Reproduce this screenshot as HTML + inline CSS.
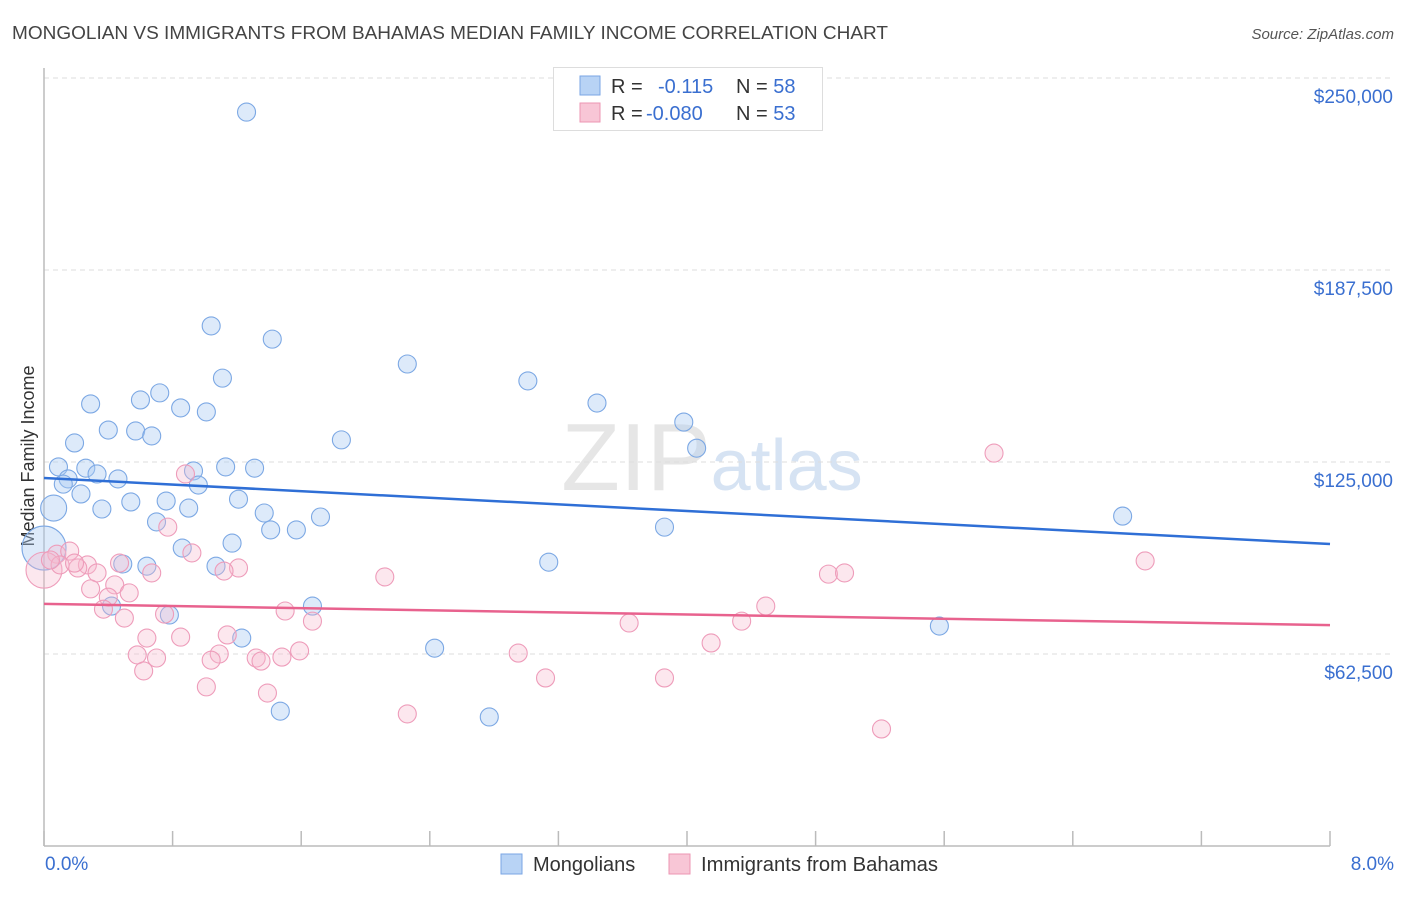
<!DOCTYPE html>
<html><head><meta charset="utf-8"><style>
body{margin:0;background:#fff;font-family:"Liberation Sans",sans-serif;}
svg text{font-family:"Liberation Sans",sans-serif;}
</style></head><body>
<svg id="chart" width="1406" height="892" xmlns="http://www.w3.org/2000/svg">
<text x="12" y="39" font-size="18.5" fill="#444" textLength="876" lengthAdjust="spacingAndGlyphs">MONGOLIAN VS IMMIGRANTS FROM BAHAMAS MEDIAN FAMILY INCOME CORRELATION CHART</text>
<text x="1394" y="39" font-size="15" font-style="italic" fill="#555" text-anchor="end">Source: ZipAtlas.com</text>
<text x="712" y="490" font-size="96" text-anchor="middle" fill="#dcdcdc" font-family="Liberation Serif" opacity="0.7">ZIP<tspan fill="#c6d8ee" font-family="Liberation Sans" font-size="72">atlas</tspan></text>
<text transform="translate(34,456) rotate(-90)" font-size="18" fill="#333" text-anchor="middle">Median Family Income</text>
<g id="grid"></g><g id="axes"></g><g id="pts"></g><g id="trend"></g>
<g>
<rect x="553.5" y="67.5" width="269" height="63" fill="#fff" stroke="#ddd"/>
<rect x="580" y="76" width="20" height="19" fill="#b8d3f5" stroke="#7aa6e4"/>
<rect x="580" y="103" width="20" height="19" fill="#f8c6d6" stroke="#ec96b3"/>
<text x="611" y="93" font-size="20" fill="#333">R = <tspan fill="#3a6fd0" x="658">-0.115</tspan><tspan fill="#333" x="736">N = </tspan><tspan fill="#3a6fd0">58</tspan></text>
<text x="611" y="120" font-size="20" fill="#333">R = <tspan fill="#3a6fd0" x="646">-0.080</tspan><tspan fill="#333" x="736">N = </tspan><tspan fill="#3a6fd0">53</tspan></text>
</g>
<g>
<rect x="501" y="854" width="21" height="20" fill="#b8d3f5" stroke="#7aa6e4"/>
<text x="533" y="871" font-size="20" fill="#333">Mongolians</text>
<rect x="669" y="854" width="21" height="20" fill="#f8c6d6" stroke="#ec96b3"/>
<text x="701" y="871" font-size="20" fill="#333" textLength="237" lengthAdjust="spacingAndGlyphs">Immigrants from Bahamas</text>
</g>
</svg>
<script>
const yTicks=[62500,125000,187500,250000];
const yTickLabels=["$62,500","$125,000","$187,500","$250,000"];
const xTickLabels=["0.0%","8.0%"];
const blueX=[1.26,1.04,1.42,2.26,1.11,3.01,0.72,0.60,0.29,3.44,0.85,1.01,3.98,0.40,0.57,0.67,1.85,0.19,4.06,0.09,0.26,0.93,1.13,1.31,0.33,0.46,0.15,0.12,0.96,0.23,1.21,0.54,0.76,0.06,0.36,0.90,1.37,1.72,6.71,0.70,3.86,1.41,1.57,1.17,0.86,0.0,0.49,0.64,3.14,1.07,0.42,0.78,1.67,5.57,1.23,2.43,1.47,2.77];
const blueY=[238900,169300,165000,156900,152300,151400,147500,145200,143900,144200,142600,141300,138000,135400,135100,133500,132200,131200,129500,123400,123000,122100,123400,123000,121100,119500,119500,117800,117500,114600,112900,112000,112300,110000,109700,110000,108400,107100,107400,105500,103800,102900,102900,98600,97000,97000,91800,91100,92400,91100,78100,75200,78100,71600,67700,64400,43900,42000];
const blueR=[9,9,9,9,9,9,9,9,9,9,9,9,9,9,9,9,9,9,9,9,9,9,9,9,9,9,9,9,9,9,9,9,9,13,9,9,9,9,9,9,9,9,9,9,9,22,9,9,9,9,9,9,9,9,9,9,9,9];
const pinkX=[5.91,0.88,0.77,0.08,0.16,0.0,0.92,0.47,0.27,0.21,0.10,0.33,0.67,1.21,1.12,2.12,4.88,4.98,6.85,0.44,0.29,0.53,0.40,0.37,1.50,4.49,0.75,0.50,1.67,3.64,4.34,0.64,0.85,1.14,4.15,0.58,1.59,1.09,1.04,0.70,1.32,1.35,1.48,2.95,0.62,3.12,3.86,1.01,1.39,2.26,5.21,0.04,0.19];
const pinkY=[127900,121100,103800,95000,96000,89800,95400,92100,91500,90500,91500,88900,88900,90500,89500,87600,88500,88900,92800,85000,83700,82400,81000,77100,76500,78100,75500,74200,73200,72600,73200,67700,68000,68700,66100,62200,63500,62500,60500,61200,61200,60200,61500,62800,57000,54700,54700,51800,49800,43000,38100,93100,92100];
const trendBlueY=[119800,98300];
const trendPinkY=[78800,71900];
const trendX=[0,8];
const X=v=>44+v/8*1286, Y=v=>846-v/62500*192;
const NS="http://www.w3.org/2000/svg";
function mk(p,t,a){const e=document.createElementNS(NS,t);for(const k in a)e.setAttribute(k,a[k]);p.appendChild(e);return e;}
const grid=document.getElementById('grid'),axes=document.getElementById('axes'),pts=document.getElementById('pts'),tr=document.getElementById('trend');
yTicks.forEach((t,i)=>{
 const g=mk(grid,'line',{x1:44,x2:1394,y1:Y(t),y2:Y(t),stroke:'#ddd','stroke-dasharray':'5,4'});
 
 
 const l=mk(axes,'text',{x:1393,y:Y(t)+25,'font-size':19,fill:'#3a6fd0','text-anchor':'end'});
 l.textContent=yTickLabels[i];
 
 
});
const ya=mk(axes,'line',{x1:44,x2:44,y1:68,y2:846,stroke:'#bbb','stroke-width':1.5});


const xa=mk(axes,'line',{x1:44,x2:1330,y1:846,y2:846,stroke:'#bbb','stroke-width':1.5});


for(let i=0;i<=10;i++){
 const tk=mk(axes,'line',{x1:X(i*0.8),x2:X(i*0.8),y1:831,y2:846,stroke:'#bbb','stroke-width':1.5});
 
 
}
[[0,45,'start'],[1,1394,'end']].forEach(([i,x,a])=>{
 const l=mk(axes,'text',{x:x,y:870,'font-size':19,fill:'#3a6fd0','text-anchor':a});
 l.textContent=xTickLabels[i];
 
 
});
blueX.forEach((v,i)=>{
 const c=mk(pts,'circle',{cx:X(v),cy:Y(blueY[i]),r:blueR[i],fill:'rgba(170,202,242,0.4)',stroke:'#7ca8e4','stroke-width':1.1});
 
 
});
pinkX.forEach((v,i)=>{
 const r=i==5?18:9;
 const c=mk(pts,'circle',{cx:X(v),cy:Y(pinkY[i]),r:r,fill:'rgba(246,186,206,0.35)',stroke:'#ee9cba','stroke-width':1.1});
 
 
});
const tb=mk(tr,'line',{x1:X(trendX[0]),y1:Y(trendBlueY[0]),x2:X(trendX[1]),y2:Y(trendBlueY[1]),stroke:'#2f6fd6','stroke-width':2.5});


const tp=mk(tr,'line',{x1:X(trendX[0]),y1:Y(trendPinkY[0]),x2:X(trendX[1]),y2:Y(trendPinkY[1]),stroke:'#e8628e','stroke-width':2.5});


</script>
</body></html>
